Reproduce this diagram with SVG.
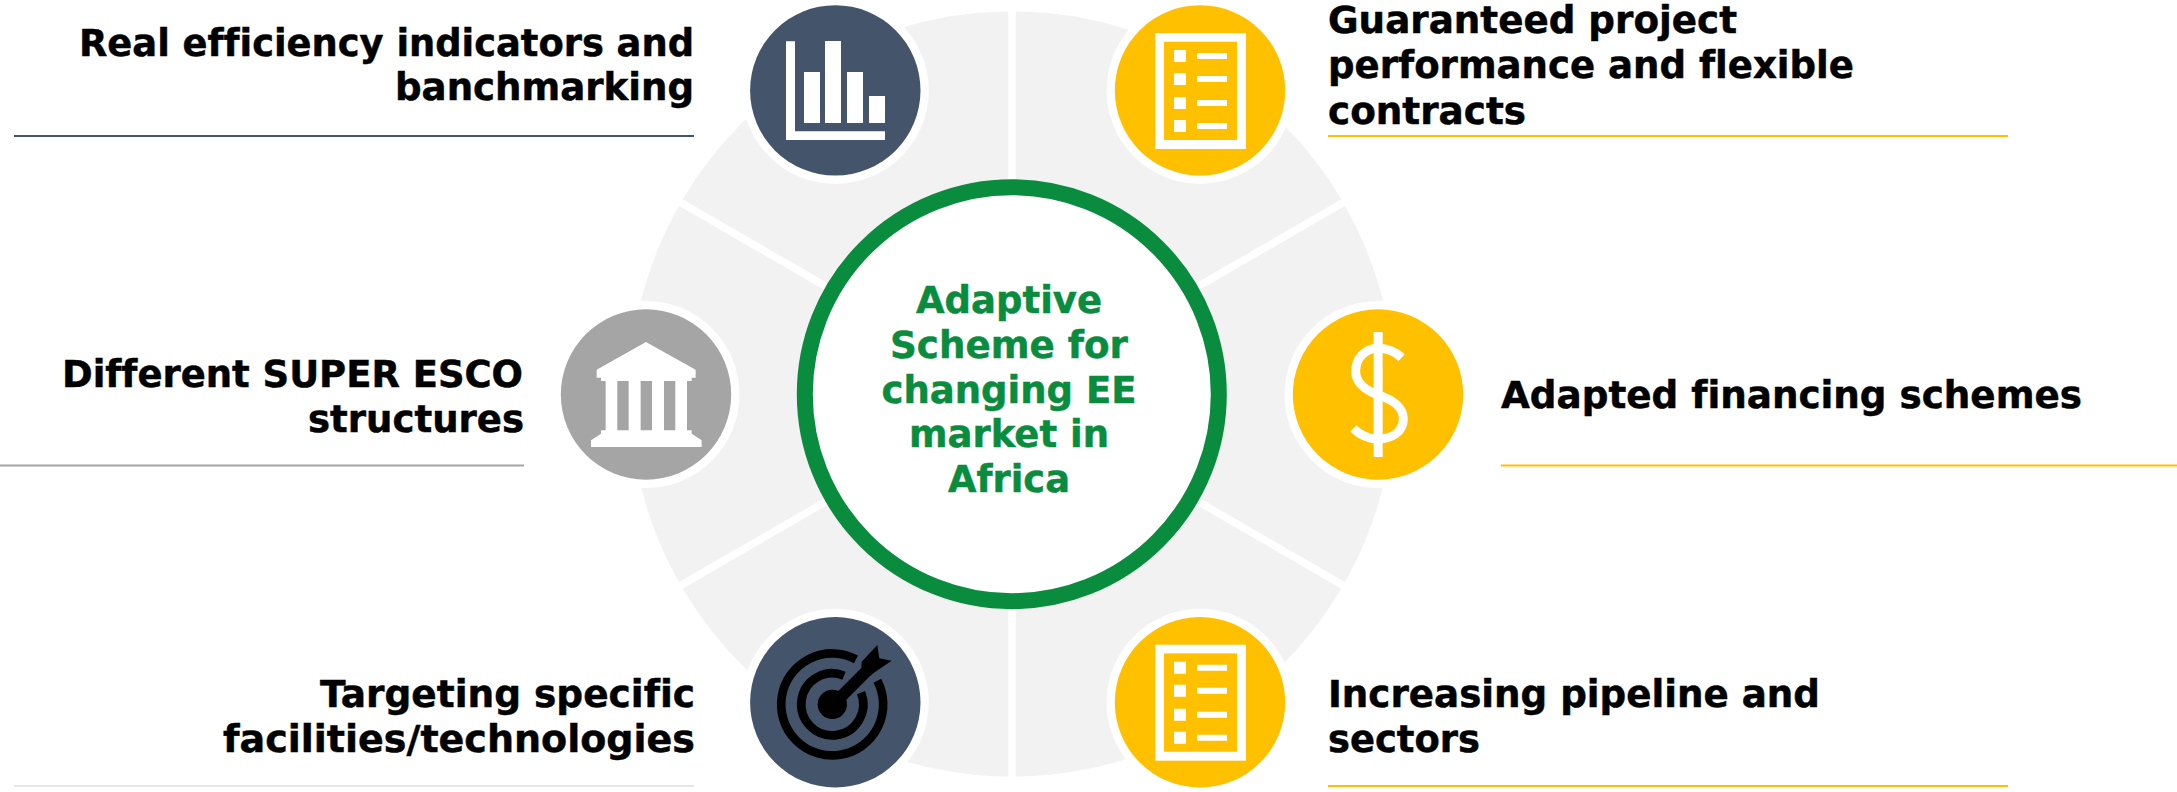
<svg xmlns="http://www.w3.org/2000/svg" width="2177" height="792" viewBox="0 0 2177 792">
<style>
text{font-family:"DejaVu Sans",Verdana,sans-serif;font-weight:700;font-size:37px;fill:#000;font-variant-ligatures:none;stroke:#000;stroke-width:.5px}
.r{text-anchor:end}
.c{text-anchor:middle;fill:#0A8C3E;stroke:#0A8C3E}
.w{fill:#fff}
.n{fill:#44546A}.y{fill:#FFC000}.g{fill:#A5A5A5}
.halo{fill:#fff}
</style>
<defs>
<g id="list">
<rect class="w" x="1155.3" y="33" width="90.7" height="116"/>
<rect class="y" x="1164" y="41.7" width="73" height="98.3"/>
<path class="w" d="M1174 50h12v12h-12zM1174 73h12v12h-12zM1174 97h12v12h-12zM1174 120h12v12h-12zM1197 53h30v6h-30zM1197 76h30v6h-30zM1197 100h30v6h-30zM1197 123h30v6h-30z"/>
</g>
</defs>
<rect width="2177" height="792" fill="#fff"/>
<g id="ring">
<circle cx="1012" cy="394" r="382.5" fill="#F2F2F2"/>
<g stroke="#fff" stroke-width="7.500">
<line x1="1012" y1="0" x2="1012" y2="787"/>
<line x1="672" y1="197.500" x2="1352" y2="590.500"/>
<line x1="672" y1="590.500" x2="1352" y2="197.500"/>
</g>
</g>
<g id="connectors" stroke-width="2" fill="none">
<line x1="14" y1="136" x2="694" y2="136" stroke="#44546A"/>
<line x1="1328" y1="136" x2="2008" y2="136" stroke="#FFC000"/>
<line x1="0" y1="465.5" x2="524" y2="465.5" stroke="#A5A5A5"/>
<line x1="1501" y1="465.5" x2="2177" y2="465.5" stroke="#FFC000"/>
<line x1="14" y1="786" x2="694" y2="786" stroke="#E7E6E6"/>
<line x1="1328" y1="786" x2="2008" y2="786" stroke="#FFC000"/>
</g>
<g id="center">
<circle cx="1011.8" cy="394.2" r="207" fill="#fff" stroke="#0A8C3E" stroke-width="16"/>
<text class="c" x="1009" y="313.300" textLength="186" lengthAdjust="spacingAndGlyphs">Adaptive</text>
<text class="c" x="1009" y="358" textLength="238" lengthAdjust="spacingAndGlyphs">Scheme for</text>
<text class="c" x="1009" y="402.700" textLength="255" lengthAdjust="spacingAndGlyphs">changing EE</text>
<text class="c" x="1009" y="447.300" textLength="200" lengthAdjust="spacingAndGlyphs">market in</text>
<text class="c" x="1009" y="492.300" textLength="122" lengthAdjust="spacingAndGlyphs">Africa</text>
</g>
<g id="node-benchmark">
<circle class="halo" cx="835.3" cy="90.4" r="93.500"/>
<circle class="n" cx="835.3" cy="90.4" r="85.200"/>
<path class="w" d="M786 41.3h9V131.3h90V140H786zM804 72h16v51h-16zM825 41h16v82h-16zM847 72h16v51h-16zM869 96h16v27h-16z"/>
<text class="r" x="694" y="56" textLength="615" lengthAdjust="spacingAndGlyphs">Real efficiency indicators and</text>
<text class="r" x="694" y="100" textLength="299" lengthAdjust="spacingAndGlyphs">banchmarking</text>
</g>
<g id="node-guarantee">
<circle class="halo" cx="1200" cy="90.4" r="93.500"/>
<circle class="y" cx="1200" cy="90.4" r="85.200"/>
<use href="#list"/>
<text x="1328" y="33" textLength="409" lengthAdjust="spacingAndGlyphs">Guaranteed project</text>
<text x="1328" y="78" textLength="526" lengthAdjust="spacingAndGlyphs">performance and flexible</text>
<text x="1328" y="124" textLength="198" lengthAdjust="spacingAndGlyphs">contracts</text>
</g>
<g id="node-structures">
<circle class="halo" cx="646" cy="394.5" r="93.500"/>
<circle class="g" cx="646" cy="394.5" r="85.200"/>
<path class="w" fill-rule="evenodd" transform="translate(540 295) scale(.3333)" d="M170 224L318 141L467 224V248H455V258H441V406H455V416L485 436V456H153V436L183 416V406H197V258H183V248H170ZM232 258V406H266V258ZM302 258V406H336V258ZM372 258V406H406V258Z"/>
<text class="r" x="523" y="387" textLength="461" lengthAdjust="spacingAndGlyphs">Different SUPER ESCO</text>
<text class="r" x="524" y="432" textLength="216" lengthAdjust="spacingAndGlyphs">structures</text>
</g>
<g id="node-financing">
<circle class="halo" cx="1378" cy="394.5" r="93.500"/>
<circle class="y" cx="1378" cy="394.5" r="85.200"/>
<g transform="translate(1270 295) scale(.3333)" fill="none" stroke="#fff" stroke-width="27">
<path d="M324.500 111V486"/>
<path d="M395 188C370 165 345 160 325 160C285 160 257 190 257 228C257 265 285 285 325 300C370 315 400 335 400 372C400 410 365 432 325 432C295 432 270 420 250 400"/>
</g>
<text x="1501" y="408" textLength="581" lengthAdjust="spacingAndGlyphs">Adapted financing schemes</text>
</g>
<g id="node-targeting">
<circle class="halo" cx="835.3" cy="702.300" r="93.500"/>
<circle class="n" cx="835.3" cy="702.300" r="85.200"/>
<g transform="translate(720 600) scale(.3333)">
<circle cx="337" cy="313" r="44" fill="#000"/>
<path fill="none" stroke="#000" stroke-width="26" d="M372 227A93 93 0 1 0 423 278M408 178A153 153 0 1 0 472 242"/>
<path fill="#000" d="M328 300L352 326L448 230L462 218L515 182L478 175L472 135L425 185L424 204Z"/>
</g>
<text class="r" x="695" y="707" textLength="375" lengthAdjust="spacingAndGlyphs">Targeting specific</text>
<text class="r" x="695" y="752" textLength="472" lengthAdjust="spacingAndGlyphs">facilities/technologies</text>
</g>
<g id="node-pipeline">
<circle class="halo" cx="1200" cy="702.300" r="93.500"/>
<circle class="y" cx="1200" cy="702.300" r="85.200"/>
<use href="#list" y="611.700"/>
<text x="1328" y="707" textLength="492" lengthAdjust="spacingAndGlyphs">Increasing pipeline and</text>
<text x="1328" y="752" textLength="152" lengthAdjust="spacingAndGlyphs">sectors</text>
</g>
</svg>
